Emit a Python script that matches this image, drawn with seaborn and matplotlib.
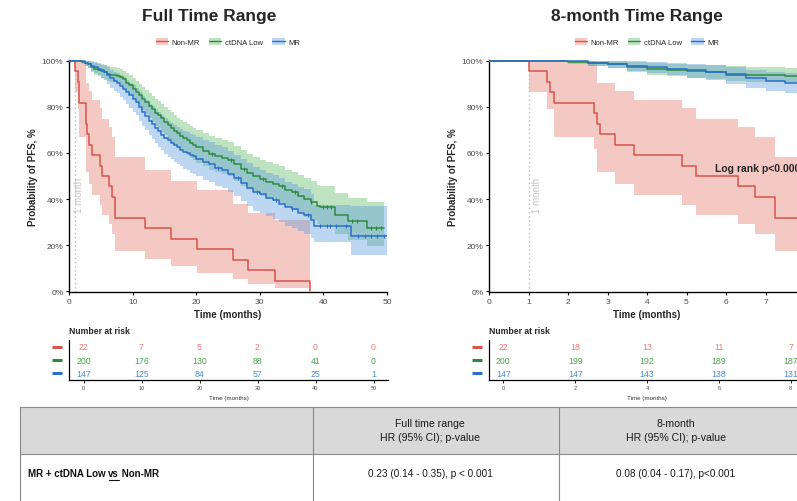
import numpy as np
import pandas as pd
import matplotlib
matplotlib.use("Agg")
import matplotlib.pyplot as plt
import seaborn as sns
from matplotlib import font_manager
from matplotlib.patches import Patch, Rectangle
from matplotlib.lines import Line2D

sns.set_theme(style="white")
plt.rcParams["font.family"] = ["Liberation Sans", "DejaVu Sans"]

# ---------------- survival data (percent) ----------------
groups = ["Non-MR", "ctDNA Low", "MR"]

nonmr_time = [0, 1.0, 1.47, 1.55, 1.64, 2.65, 2.74, 2.80, 3.19, 3.66, 4.88, 5.24,
              6.30, 6.73, 7.25, 12.0, 16.1, 20.1, 25.8, 28.2, 32.4, 37.9]
nonmr_surv = [100, 95.5, 90.9, 86.4, 81.8, 77.3, 72.7, 68.2, 63.6, 59.1, 54.5, 50.0,
              45.5, 40.9, 31.8, 27.3, 22.7, 18.2, 13.6, 9.1, 4.5, 0]
nonmr_ci_time = [0, 1.0, 1.47, 1.64, 2.65, 2.74, 3.19, 3.66, 4.88, 5.24, 6.30, 6.73,
                 7.25, 12.0, 16.1, 20.1, 25.8, 28.2, 32.4, 37.9]
nonmr_lower = [100, 86.7, 79.0, 67.0, 61.7, 51.6, 46.5, 41.7, 37.5, 33.0, 29.1, 24.8,
               17.5, 14.0, 11.0, 8.0, 5.2, 3.0, 1.5, 1.5]
nonmr_upper = [100, 100, 100, 100, 100, 90.3, 86.8, 83.0, 79.4, 74.8, 71.2, 66.8,
               58.1, 52.5, 48.0, 44.0, 38.0, 34.0, 31.0, 31.0]

ctdna_time = [0, 2.0, 2.5, 3.0, 3.5, 4.0, 4.5, 5.0, 5.5, 6.0, 6.5, 7.5,
              8.0, 8.5, 9.0, 9.5, 10.0, 10.5, 11.0, 11.5, 12.0, 12.5, 13.0, 13.5,
              14.0, 14.5, 15.0, 15.5, 16.0, 16.5, 17.0, 17.5, 18.0, 18.5, 19.0, 19.5,
              20.0, 21, 22, 23, 24, 25, 26, 27, 28, 29, 30, 31, 32, 33, 34, 35, 36,
              37, 38, 39, 39.5, 41.8, 43.9, 46.8, 49.6]
ctdna_surv = [100, 99.5, 99.0, 98.5, 97.5, 96.5, 96.0, 95.5, 95.0, 94.5, 94.0, 93.5,
              93.0, 92.0, 90.5, 89.5, 88.0, 86.5, 85.0, 83.5, 82.0, 80.5, 79.0, 77.5,
              76.5, 75.0, 73.5, 72.0, 71.0, 69.5, 68.5, 67.5, 66.5, 65.5, 64.5, 63.5,
              62.5, 61.0, 59.5, 58.5, 58.0, 57.0, 55.0, 53.0, 51.5, 50.0, 48.5, 47.5,
              46.5, 45.5, 44.0, 43.0, 41.5, 40.0, 38.5, 37.0, 36.4, 33.0, 30.5, 27.5, 27.5]
ctdna_lower = [100, 98.5, 97.6, 96.8, 95.4, 94.0, 93.4, 92.7, 92.0, 91.4, 90.8, 90.2,
               89.5, 88.3, 86.5, 85.3, 83.6, 81.9, 80.2, 78.5, 76.9, 75.2, 73.5, 71.9,
               70.8, 69.2, 67.6, 66.0, 64.9, 63.3, 62.2, 61.1, 60.0, 59.0, 57.9, 56.9,
               55.8, 54.2, 52.6, 51.6, 51.0, 50.0, 47.9, 45.8, 44.3, 42.7, 41.2, 40.1,
               39.1, 38.0, 36.5, 35.4, 33.8, 32.3, 30.8, 29.2, 28.5, 25.0, 22.3, 19.4, 19.4]
ctdna_upper = [100, 100, 100, 100, 99.6, 99.0, 98.7, 98.4, 98.1, 97.7, 97.4, 97.0,
               96.6, 95.8, 94.6, 93.8, 92.6, 91.3, 90.0, 88.7, 87.4, 86.0, 84.7, 83.4,
               82.5, 81.2, 79.9, 78.5, 77.6, 76.3, 75.4, 74.5, 73.6, 72.7, 71.8, 70.9,
               70.0, 68.6, 67.2, 66.3, 65.8, 64.9, 63.0, 61.1, 59.7, 58.3, 56.9, 56.0,
               55.1, 54.2, 52.8, 51.9, 50.5, 49.1, 47.7, 46.3, 45.8, 42.6, 40.3, 38.6, 38.6]
ctdna_censor = [22.5, 25.5, 27.5, 30.5, 33.5, 35.5, 38.0, 40.0, 40.6, 41.2, 44.5,
                45.3, 47.5, 48.3, 49.0]

mr_time = [0, 2.5, 3.0, 3.5, 4.0, 4.5, 5.0, 5.5, 6.0, 6.5, 7.0, 7.5, 8.0,
           8.5, 9.0, 9.5, 10.0, 10.5, 11.0, 11.5, 12.0, 12.5, 13.0, 13.5, 14.0,
           14.5, 15.0, 15.5, 16.0, 16.5, 17.0, 17.5, 18.0, 18.5, 19.0, 19.5, 20.0,
           21, 22, 23, 24, 25, 26, 27, 28, 29, 30, 31, 32, 33, 34, 35, 36, 37, 38,
           38.5, 44.4, 50.0]
mr_surv = [100, 99.3, 98.6, 98.0, 97.3, 96.6, 95.9, 95.2, 93.9, 92.5, 91.2, 90.5, 89.1,
           88.0, 86.5, 85.0, 83.5, 82.0, 80.0, 78.0, 76.0, 74.0, 72.5, 71.0, 69.5,
           68.0, 66.5, 65.5, 64.5, 63.5, 62.5, 61.5, 60.5, 60.0, 59.0, 58.5, 57.5,
           56.0, 55.0, 53.5, 52.5, 51.0, 49.0, 47.0, 45.0, 43.0, 42.0, 40.5, 39.5,
           38.0, 36.5, 35.5, 34.0, 33.0, 31.0, 28.4, 24.0, 24.0]
mr_lower = [100, 98.0, 96.9, 95.8, 94.7, 93.7, 92.7, 91.8, 90.1, 88.4, 86.8, 86.0, 84.4,
            83.1, 81.4, 79.7, 78.0, 76.3, 74.1, 71.9, 69.8, 67.6, 65.9, 64.3, 62.7,
            61.1, 59.5, 58.4, 57.4, 56.3, 55.2, 54.2, 53.1, 52.6, 51.5, 51.0, 49.9,
            48.4, 47.3, 45.7, 44.7, 43.1, 41.1, 39.0, 37.0, 35.0, 34.0, 32.5, 31.4,
            29.9, 28.4, 27.4, 25.9, 24.9, 22.9, 21.5, 15.5, 15.5]
mr_upper = [100, 100, 100, 99.9, 99.5, 99.0, 98.6, 98.1, 97.2, 96.2, 95.2, 94.7, 93.7,
            92.9, 91.8, 90.6, 89.4, 88.2, 86.6, 84.9, 83.2, 81.5, 80.2, 78.9, 77.6,
            76.3, 75.0, 74.1, 73.2, 72.3, 71.4, 70.5, 69.6, 69.2, 68.3, 67.8, 66.9,
            65.6, 64.7, 63.3, 62.4, 61.0, 59.2, 57.4, 55.6, 53.7, 52.8, 51.4, 50.4,
            49.0, 47.6, 46.7, 45.3, 44.3, 42.3, 37.5, 37.0, 37.0]
mr_censor = [23.5, 26.5, 29.5, 32.5, 35.0, 37.5, 39.5, 40.5, 41.0, 42.0, 43.5,
             45.5, 46.5, 47.5, 48.5, 49.5]

# ---------------- numbers at risk ----------------
risk_full_ticks = [0, 10, 20, 30, 40, 50]
risk_full_nonmr = [22, 7, 5, 2, 0, 0]
risk_full_ctdna = [200, 176, 130, 88, 41, 0]
risk_full_mr = [147, 125, 84, 57, 25, 1]

risk_8m_ticks = [0, 2, 4, 6, 8]
risk_8m_nonmr = [22, 18, 13, 11, 7]
risk_8m_ctdna = [200, 199, 192, 189, 187]
risk_8m_mr = [147, 147, 143, 138, 131]

# ---------------- hazard ratio table ----------------
table_col_titles = ["Full time range", "8-month"]
table_col_subtitle = "HR (95% CI); p-value"
table_row_parts = ["MR + ctDNA Low ", "vs", " Non-MR"]
table_row_values = ["0.23 (0.14 - 0.35), p < 0.001", "0.08 (0.04 - 0.17), p<0.001"]

panel_titles = ["Full Time Range", "8-month Time Range"]
logrank_text = "Log rank p<0.0001"

# ---------------- styling ----------------
line_colors = {"Non-MR": "#D9544A", "ctDNA Low": "#2E8B3E", "MR": "#2A6FCB"}
band_colors = {"Non-MR": "#E8786B", "ctDNA Low": "#5DBB63", "MR": "#5B9BE0"}
risk_colors = {"Non-MR": "#E57D72", "ctDNA Low": "#4CA64C", "MR": "#4A8FDB"}
tick_grey = "#4d4d4d"

curves = {
    "Non-MR": (nonmr_time, nonmr_surv),
    "ctDNA Low": (ctdna_time, ctdna_surv),
    "MR": (mr_time, mr_surv),
}
bands = {
    "Non-MR": (nonmr_ci_time, nonmr_lower, nonmr_upper),
    "ctDNA Low": (ctdna_time, ctdna_lower, ctdna_upper),
    "MR": (mr_time, mr_lower, mr_upper),
}
censors = {"ctDNA Low": ctdna_censor, "MR": mr_censor}

W, H = 797, 502
fig = plt.figure(figsize=(W / 100, H / 100), dpi=100)
fig.patch.set_facecolor("white")


def fx(px):
    return px / W


def fy(py):
    return 1 - py / H


def km_panel(left_px, width_px, xmax, xticks, title, title_x_px, month_text_x):
    ax = fig.add_axes([fx(left_px), fy(293), width_px / W, 232 / H])
    for g in groups:
        t, lo, hi = bands[g]
        ax.fill_between(t, lo, hi, step="post", color=band_colors[g],
                        alpha=0.4, lw=0, zorder=1)
    for g in groups:
        t, s = curves[g]
        df = pd.DataFrame({"time": t, "surv": s})
        sns.lineplot(data=df, x="time", y="surv", ax=ax, color=line_colors[g],
                     lw=1.1, drawstyle="steps-post", estimator=None, sort=False,
                     zorder=3)
    for g, ct in censors.items():
        t, s = curves[g]
        idx = np.searchsorted(t, ct, side="right") - 1
        sns.scatterplot(x=ct, y=np.asarray(s)[idx], ax=ax, marker="|", s=10,
                        color=line_colors[g], linewidth=0.8, zorder=4)
    ax.axvline(1, color="#bdbdbd", lw=1.0, ls=(0, (1, 2)), zorder=2)
    ax.text(month_text_x, 42, "1 month", rotation=90, color="#c4c4c4",
            fontsize=7, ha="center", va="center")
    ax.set_xlim(0, xmax)
    ax.set_ylim(-0.4, 100.4)
    ax.set_xticks(xticks)
    ax.set_yticks([0, 20, 40, 60, 80, 100])
    ax.set_yticklabels([f"{v}%" for v in [0, 20, 40, 60, 80, 100]])
    ax.tick_params(axis="both", labelsize=6, labelcolor=tick_grey, length=2.5,
                   width=0.8, pad=1.5, color="black", direction="out",
                   bottom=True, left=True)
    for side in ["top", "right"]:
        ax.spines[side].set_visible(False)
    for side in ["left", "bottom"]:
        ax.spines[side].set_color("black")
        ax.spines[side].set_linewidth(1.0)
    ax.set_xlabel("Time (months)", fontsize=7, fontweight="bold", va="top")
    ax.xaxis.set_label_coords(0.5, -0.072)
    ax.set_ylabel("")
    fig.text(fx(left_px - 36), fy(177), "Probability of PFS, %", rotation=90,
             fontsize=7, fontweight="bold", ha="center", va="center")
    fig.text(fx(title_x_px), fy(17), title, fontsize=12.5, fontweight="bold",
             ha="center", va="center")
    handles = [(Patch(facecolor=band_colors[g], alpha=0.4, edgecolor="none"),
                Line2D([0], [0], color=line_colors[g], lw=1.0)) for g in groups]
    ax.legend(handles, groups, loc="center", bbox_to_anchor=(0.5, 1.078), ncol=3,
              frameon=False, fontsize=5.5, handlelength=1.6, handleheight=1.2,
              handletextpad=0.5, columnspacing=1.2, borderaxespad=0)
    return ax


ax_full = km_panel(69, 318, 50, [0, 10, 20, 30, 40, 50], panel_titles[0], 209, 1.5)
ax_8m = km_panel(489, 316, 8, [0, 1, 2, 3, 4, 5, 6, 7], panel_titles[1], 637, 1.22)
ax_8m.text(5.73, 53.3, logrank_text, fontsize=7.5, fontweight="bold",
           ha="left", va="center", zorder=5)


def risk_panel(left_px, width_px, xlim, ticks, nonmr, ctdna, mr):
    ax = fig.add_axes([fx(left_px), fy(381), width_px / W, 40 / H])
    rows = {"Non-MR": (3, nonmr), "ctDNA Low": (2, ctdna), "MR": (1, mr)}
    for g in groups:
        yrow, counts = rows[g]
        for t, n in zip(ticks, counts):
            ax.text(t, yrow, str(n), ha="center", va="center", fontsize=6.3,
                    color=risk_colors[g])
        ax.plot([-0.038], [yrow], transform=ax.get_yaxis_transform(),
                marker="_", ms=7, mew=2.2, color=line_colors[g], clip_on=False)
    ax.set_xlim(*xlim)
    ax.set_ylim(0.5, 3.5)
    ax.set_xticks(ticks)
    ax.set_yticks([])
    ax.tick_params(axis="x", labelsize=4, labelcolor=tick_grey, length=2,
                   width=0.6, pad=1.5, color="black", bottom=True)
    for side in ["top", "right"]:
        ax.spines[side].set_visible(False)
    for side in ["left", "bottom"]:
        ax.spines[side].set_color("black")
        ax.spines[side].set_linewidth(0.9)
    ax.set_xlabel("Time (months)", fontsize=4.5, color="#333333", va="center")
    ax.xaxis.set_label_coords(0.5, -0.43)
    ax.text(0, 1.25, "Number at risk", transform=ax.transAxes, fontsize=6.2,
            fontweight="bold", ha="left", va="center")
    ax.patch.set_alpha(0)
    return ax


risk_panel(69, 319, (-2.5, 52.5), risk_full_ticks,
           risk_full_nonmr, risk_full_ctdna, risk_full_mr)
risk_panel(489, 316, (-0.4, 8.4), risk_8m_ticks,
           risk_8m_nonmr, risk_8m_ctdna, risk_8m_mr)

# ---------------- hazard ratio table ----------------
available = {f.name for f in font_manager.fontManager.ttflist}
narrow = "Liberation Sans Narrow" in available
table_font = ["Liberation Sans Narrow"] if narrow else ["Liberation Sans"]
head_size = 8.2 if narrow else 7.6
value_size = 8.0 if narrow else 7.2
label_size = 8.0 if narrow else 7.0

tab = fig.add_axes([0, 0, 1, 1])
tab.set_xlim(0, W)
tab.set_ylim(H, 0)
tab.axis("off")
rule = "#8a8a8a"
tab.add_patch(Rectangle((20, 408), 800, 47, facecolor="#d9d9d9", edgecolor="none"))
tab.plot([20, 820], [408, 408], color=rule, lw=0.8)
tab.plot([20, 820], [455, 455], color=rule, lw=0.8)
for xv in [20, 313, 559]:
    tab.plot([xv, xv], [408, 520], color=rule, lw=0.8)

for cx, head in zip([430, 676], table_col_titles):
    tab.text(cx, 424, head, ha="center", va="center", fontsize=head_size,
             family=table_font, color="#1a1a1a")
    tab.text(cx, 438.5, table_col_subtitle, ha="center", va="center",
             fontsize=head_size, family=table_font, color="#1a1a1a")
for cx, val in zip([430, 676], table_row_values):
    tab.text(cx, 474, val, ha="center", va="center", fontsize=value_size,
             family=table_font, color="#1a1a1a")

renderer = fig.canvas.get_renderer()
x_cursor = 28.0
for part in table_row_parts:
    t = tab.text(x_cursor, 474, part, ha="left", va="center", fontsize=label_size,
                 fontweight="bold", family=table_font, color="#111111")
    bb = t.get_window_extent(renderer=renderer)
    (x0, y0), (x1, y1) = tab.transData.inverted().transform([[bb.x0, bb.y0], [bb.x1, bb.y1]])
    if part.strip() == "vs":
        tab.plot([x0 + 0.3, x1 - 0.3], [480.5, 480.5], color="#111111", lw=0.8)
    x_cursor = x1

fig.savefig("out.png", dpi=100)
